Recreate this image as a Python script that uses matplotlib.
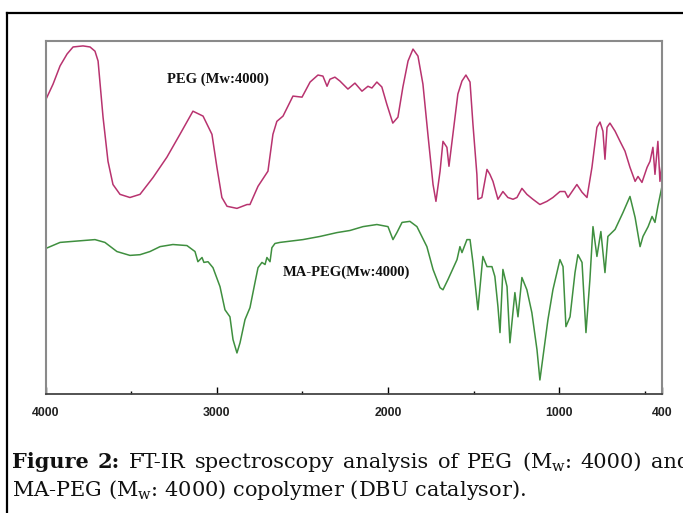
import numpy as np
import matplotlib.pyplot as plt
from matplotlib.lines import Line2D

plt.rcParams['mathtext.fontset'] = 'custom'
plt.rcParams['mathtext.rm'] = 'DejaVu Serif'

# PEG (Mw:4000) spectrum (wavenumber, relative transmittance)
peg_wn = [3997, 3956, 3915, 3874, 3839, 3781, 3740, 3711, 3693, 3664, 3635, 3606, 3565, 3507,
          3448, 3372, 3291, 3215, 3139, 3080, 3028, 2999, 2970, 2940, 2882, 2823, 2806, 2759,
          2701, 2672, 2649, 2613, 2555, 2502, 2455, 2409, 2380, 2356, 2339, 2310, 2281, 2234,
          2193, 2152, 2117, 2094, 2065, 2036, 2007, 1972, 1942, 1913, 1883, 1854, 1825, 1796,
          1767, 1737, 1720, 1696, 1679, 1656, 1644, 1621, 1592, 1568, 1545, 1521, 1504, 1481,
          1475, 1452, 1422, 1405, 1387, 1358, 1329, 1300, 1270, 1247, 1218, 1189, 1154, 1113,
          1072, 1037, 996, 967, 949, 897, 867, 838, 809, 780, 762, 745, 733, 721, 704, 674,
          645, 616, 587, 557, 540, 517, 487, 470, 453, 441, 424, 412, 400]
peg_t = [83.4, 87.7, 92.9, 96.3, 98.3, 98.6, 98.3, 97.1, 94.3, 78.3, 65.7, 59.1, 56.3, 55.4,
         56.3, 61.1, 66.9, 73.4, 80.0, 78.6, 73.4, 64.0, 55.4, 52.9, 52.3, 53.4, 53.4, 58.6,
         62.9, 73.4, 77.1, 78.6, 84.3, 84.0, 88.3, 90.3, 90.0, 87.1, 89.1, 89.7, 88.6, 86.3,
         88.0, 85.7, 87.1, 86.6, 88.3, 86.9, 82.0, 76.6, 78.3, 86.9, 94.3, 97.7, 95.7, 87.7,
         73.4, 59.1, 54.3, 62.9, 71.4, 69.7, 64.3, 73.4, 84.9, 88.6, 90.3, 88.3, 76.3, 62.0,
         54.9, 55.4, 63.4, 62.0, 60.0, 54.9, 57.1, 55.4, 54.9, 55.4, 58.0, 56.3, 54.9, 53.4,
         54.3, 55.4, 57.1, 57.1, 55.4, 59.1, 56.9, 55.4, 64.0, 75.4, 76.9, 74.3, 66.3, 75.4,
         76.6, 74.3, 71.4, 68.6, 64.0, 60.0, 61.4, 59.7, 64.0, 65.7, 69.7, 62.0, 71.4, 60.0, 64.9]

# MA-PEG (Mw:4000) spectrum
mapeg_wn = [3997, 3915, 3839, 3711, 3653, 3583, 3507, 3448, 3390, 3331, 3256, 3174, 3127, 3110,
            3086, 3075, 3051, 3022, 2981, 2952, 2923, 2905, 2882, 2864, 2835, 2806, 2777, 2759,
            2736, 2718, 2707, 2689, 2678, 2660, 2631, 2497, 2397, 2298, 2222, 2146, 2065, 2000,
            1971, 1948, 1918, 1872, 1831, 1773, 1737, 1696, 1679, 1650, 1597, 1580, 1568, 1539,
            1521, 1504, 1475, 1446, 1422, 1393, 1376, 1358, 1346, 1329, 1305, 1288, 1259, 1241,
            1218, 1189, 1160, 1130, 1113, 1084, 1066, 1037, 996, 978, 961, 937, 908, 891, 867,
            844, 821, 803, 780, 757, 733, 716, 674, 628, 587, 557, 528, 511, 481, 458, 441, 424, 400]
mapeg_t = [40.9, 42.6, 42.9, 43.4, 42.6, 40.0, 38.9, 39.1, 40.0, 41.4, 42.0, 41.7, 40.0, 37.1,
           38.3, 36.9, 37.1, 35.4, 30.0, 23.4, 21.4, 14.9, 11.1, 14.0, 20.6, 24.0, 31.1, 35.4,
           36.9, 36.3, 38.3, 37.1, 41.1, 42.3, 42.6, 43.4, 44.3, 45.4, 46.0, 47.1, 47.7, 47.1,
           43.4, 45.4, 48.3, 48.6, 47.1, 41.4, 34.9, 29.7, 29.1, 32.0, 37.7, 41.4, 39.7, 43.4,
           43.4, 36.9, 23.4, 38.6, 35.7, 35.7, 32.9, 24.3, 16.9, 34.9, 30.0, 14.0, 28.3, 21.4,
           32.6, 29.1, 22.6, 12.0, 3.4, 14.0, 20.6, 29.1, 37.7, 35.7, 18.6, 21.4, 34.0, 39.1, 36.9,
           16.9, 32.0, 47.1, 38.6, 45.7, 34.0, 44.3, 46.3, 51.1, 55.7, 49.7, 41.4, 44.3, 47.1, 50.0,
           48.3, 52.9, 58.6]

major_ticks = [4000, 3000, 2000, 1000, 400]
minor_ticks = [3500, 2500, 1500, 500]

W, H = 683, 513
fig = plt.figure(figsize=(W / 100, H / 100), dpi=100)
ax = fig.add_axes([45.5 / W, 1 - 394 / H, (662 - 45.5) / W, (394 - 41) / H])

ax.plot(peg_wn, peg_t, color='#b8336f', lw=1.1)
ax.plot(mapeg_wn, mapeg_t, color='#3f8f3f', lw=1.1)

ax.text(3290, 89.1, 'PEG (Mw:4000)', family='Liberation Serif', weight='bold',
        fontsize=10.5, va='center', color='#111111')
ax.text(2613, 34.0, 'MA-PEG(Mw:4000)', family='Liberation Serif', weight='bold',
        fontsize=10.5, va='center', color='#111111')

ax.set_xlim(4000, 400)
ax.set_ylim(-0.6, 100)
ax.set_yticks([])
ax.set_xticks(major_ticks)
ax.set_xticklabels([str(t) for t in major_ticks], fontweight='bold', fontsize=8.8,
                   family='Liberation Sans', color='#222222')
ax.set_xticks(minor_ticks, minor=True)
ax.tick_params(axis='x', which='major', direction='in', length=5, width=1, pad=9)
ax.tick_params(axis='x', which='minor', direction='in', length=2.5, width=1)
for s in ['top', 'left', 'right']:
    ax.spines[s].set_color('#8a8a8a')
    ax.spines[s].set_linewidth(1.5)
ax.spines['bottom'].set_color('#444444')
ax.spines['bottom'].set_linewidth(1.3)

# outer frame of the figure box
fig.add_artist(Line2D([7 / W, 7 / W], [0, 1 - 13 / H], transform=fig.transFigure, color='black', lw=1.6))
fig.add_artist(Line2D([7 / W, 1], [1 - 13 / H, 1 - 13 / H], transform=fig.transFigure, color='black', lw=1.6))

# caption, first line justified
fs = 15
cap_font = 'DejaVu Serif'
line1 = [('Figure', 'bold'), ('2:', 'bold'), ('FT-IR', 'normal'), ('spectroscopy', 'normal'),
         ('analysis', 'normal'), ('of', 'normal'), ('PEG', 'normal'),
         ('(M$_\\mathregular{w}$:', 'normal'), ('4000)', 'normal'), ('and', 'normal')]
y1 = 1 - 468 / H
texts = [fig.text(0, y1, w, fontsize=fs, family=cap_font, weight=wt, va='baseline', color='#111111')
         for w, wt in line1]
fig.canvas.draw()
r = fig.canvas.get_renderer()
widths = [t.get_window_extent(r).width for t in texts]
x0, x1 = 12, 690
gap = (x1 - x0 - sum(widths)) / (len(texts) - 1)
x = x0
for t, wdt in zip(texts, widths):
    t.set_x(x / W)
    x += wdt + gap

fig.text(12 / W, 1 - 496 / H, 'MA-PEG (M$_\\mathregular{w}$: 4000) copolymer (DBU catalysor).',
         fontsize=fs, family=cap_font, va='baseline', color='#111111')

fig.savefig('out.png', dpi=100)
